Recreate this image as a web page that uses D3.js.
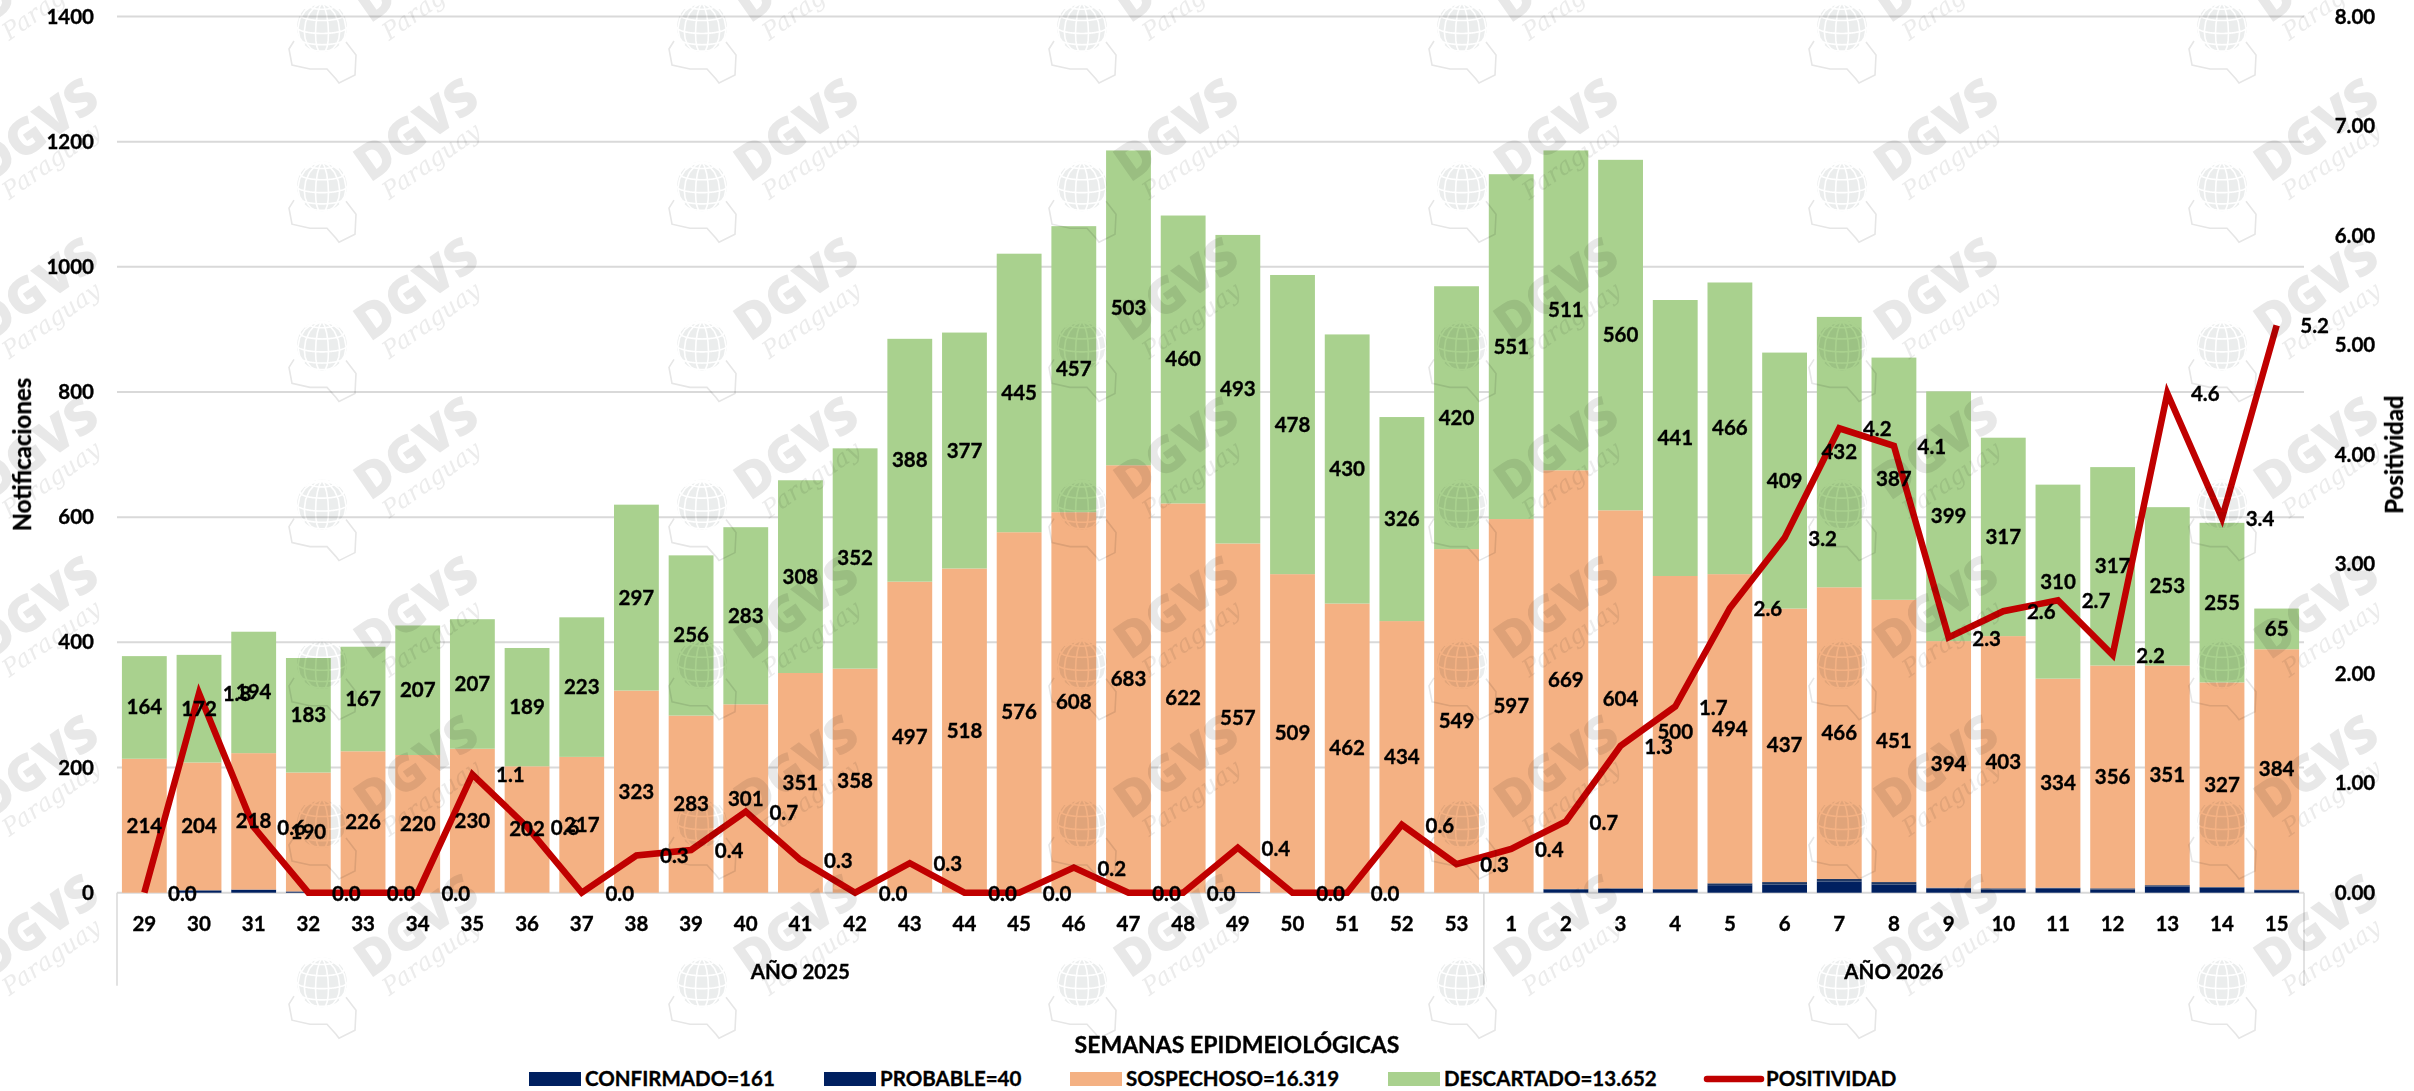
<!DOCTYPE html>
<html><head><meta charset="utf-8">
<script src="https://cdn.jsdelivr.net/npm/d3@7/dist/d3.min.js"></script>
<style>html,body{margin:0;background:#fff}svg{display:block}text{font-family:Lato,Carlito,"Open Sans",sans-serif;font-weight:700;fill:#000}.s{stroke:#000;stroke-width:.35px}</style>
</head><body><svg id="c" width="2414" height="1091"></svg>
<script>
const weeks=["29","30","31","32","33","34","35","36","37","38","39","40","41","42","43","44","45","46","47","48","49","50","51","52","53","1","2","3","4","5","6","7","8","9","10","11","12","13","14","15"];
const confirmado=[0,3,5,2,0,0,0,0,0,0,0,0,0,0,0,0,0,0,0,0,1,0,0,0,0,0,5,6,5,12,13,18,13,7,5,7,5,10,8,4];
const probable=[0,1,0,0,0,0,0,0,0,0,0,0,0,0,0,0,0,0,0,0,0,0,0,0,0,0,1,1,1,3,4,4,4,1,2,1,2,2,1,1];
const sospechoso=[214,204,218,190,226,220,230,202,217,323,283,301,351,358,497,518,576,608,683,622,557,509,462,434,549,597,669,604,500,494,437,466,451,394,403,334,356,351,327,384];
const descartado=[164,172,194,183,167,207,207,189,223,297,256,283,308,352,388,377,445,457,503,460,493,478,430,326,420,551,511,560,441,466,409,432,387,399,317,310,317,253,255,65];
const positividad=[0,1.82,0.6,0,0,0,1.08,0.6,0,0.34,0.39,0.74,0.3,0,0.27,0,0,0.23,0,0,0.41,0,0,0.62,0.26,0.4,0.65,1.34,1.7,2.6,3.24,4.24,4.08,2.33,2.57,2.67,2.17,4.56,3.42,5.18];
const leftTicks=[0,200,400,600,800,1000,1200,1400];
const rightTicks=[0,1,2,3,4,5,6,7,8];
const yearGroups=[{label:"AÑO 2025",first:0,last:24},{label:"AÑO 2026",first:25,last:39}];
const seriesNames=["confirmado","probable","sospechoso","descartado"];
const seriesColors=["#002060","#1f3864","#f4b183","#a9d18e"];
const legendItems=[{t:"CONFIRMADO=161",c:"#002060",x:529},{t:"PROBABLE=40",c:"#002060",x:824},{t:"SOSPECHOSO=16.319",c:"#f4b183",x:1070},{t:"DESCARTADO=13.652",c:"#a9d18e",x:1388},{t:"POSITIVIDAD",c:"#c00000",x:1707,line:true}];

const svg=d3.select("#c");
const L=117,R=2304,T=16.5,B=892.7;
const x=d3.scaleBand().domain(d3.range(weeks.length)).range([L,R]).paddingInner(0.18).paddingOuter(0.09);
const y=d3.scaleLinear().domain([0,1400]).range([B,T]);
const y2=d3.scaleLinear().domain([0,8]).range([B,T]);
const rows=weeks.map((w,i)=>({i,confirmado:confirmado[i],probable:probable[i],sospechoso:sospechoso[i],descartado:descartado[i]}));
const stack=d3.stack().keys(seriesNames)(rows);
const cx=i=>x(i)+x.bandwidth()/2;
const step=x.step();

svg.append("g").selectAll("line").data(leftTicks).join("line")
 .attr("x1",L).attr("x2",R).attr("y1",d=>y(d)).attr("y2",d=>y(d)).attr("stroke","#d9d9d9").attr("stroke-width",2);

svg.append("g").selectAll("g").data(stack).join("g").attr("fill",(d,i)=>seriesColors[i])
 .selectAll("rect").data(d=>d).join("rect")
 .attr("x",d=>x(d.data.i)).attr("width",x.bandwidth())
 .attr("y",d=>y(d[1])).attr("height",d=>y(d[0])-y(d[1]));

const fs=20.5;
const sep=[L,L+step*25,R];
svg.append("g").selectAll("line").data(sep).join("line")
 .attr("x1",d=>d).attr("x2",d=>d).attr("y1",B).attr("y2",B+93).attr("stroke","#d9d9d9").attr("stroke-width",1.5);

const line=d3.line().x((d,i)=>cx(i)).y(d=>y2(d));
svg.append("path").datum(positividad).attr("d",line).attr("fill","none").attr("stroke","#c00000").attr("stroke-width",6.5).attr("stroke-linejoin","miter");

// watermark: multiplied over the marks
const wm=svg.append("g").style("mix-blend-mode","multiply").attr("pointer-events","none");
const gx=d3.range(-58,2500,380), gy=d3.range(27,1100,159.2);
const globe=d3.geoOrthographic().scale(25).translate([0,0]).rotate([15,-15]);
const gpath=d3.geoPath(globe);
gy.forEach(py=>gx.forEach(px=>{
 const g=wm.append("g").attr("transform",`translate(${px},${py})`);
 g.append("circle").attr("r",25).attr("fill","#ebeded");
 g.append("path").attr("d",gpath(d3.geoGraticule().step([30,30])())).attr("fill","none").attr("stroke","#fff").attr("stroke-width",1.6);
 g.append("path").attr("d","M-28,14 L-33,22 L-30,38 L-12,42 L5,42 L14,52 L17,56 L33,48 L34,28 L24,15").attr("fill","none").attr("stroke","#e6e6e6").attr("stroke-width",1.6);
 const t=g.append("g").attr("transform","translate(48,-3) rotate(-35)");
 t.append("text").text("DGVS").style("fill","#e8e8e8").style("font-family","'Open Sans',sans-serif").style("font-weight",800).attr("font-size",50);
 t.append("text").text("Paraguay").attr("x",6).attr("y",25).style("fill","#ececec").style("font-family","'DejaVu Serif',serif").style("font-weight",400).style("font-style","italic").attr("font-size",24);
}));

const tx=svg.append("g").attr("class","s");
tx.append("g").selectAll("text").data(leftTicks).join("text").text(d=>d)
 .attr("x",94).attr("y",d=>y(d)+7).attr("text-anchor","end").attr("font-size",fs);
tx.append("g").selectAll("text").data(rightTicks).join("text").text(d=>d.toFixed(2))
 .attr("x",2355).attr("y",d=>y2(d)+7).attr("text-anchor","middle").attr("font-size",fs);
tx.append("g").selectAll("text").data(weeks).join("text").text(d=>d)
 .attr("x",(d,i)=>cx(i)).attr("y",B+38).attr("text-anchor","middle").attr("font-size",fs);
tx.append("g").selectAll("text").data(yearGroups).join("text").text(d=>d.label)
 .attr("x",d=>(cx(d.first)+cx(d.last))/2).attr("y",B+86).attr("text-anchor","middle").attr("font-size",fs);
tx.append("text").text("Notificaciones").attr("transform",`translate(31,${y(700)}) rotate(-90)`).attr("text-anchor","middle").attr("font-size",24);
tx.append("text").text("Positividad").attr("transform",`translate(2403,${y(700)}) rotate(-90)`).attr("text-anchor","middle").attr("font-size",24);
tx.append("text").text("SEMANAS EPIDMEIOLÓGICAS").attr("x",1237).attr("y",1053).attr("text-anchor","middle").attr("font-size",23);

[[2,sospechoso],[3,descartado]].forEach(([k,vals])=>{
 tx.append("g").selectAll("text").data(stack[k]).join("text").text((d,i)=>vals[i])
  .attr("x",d=>cx(d.data.i)).attr("y",d=>(y(d[0])+y(d[1]))/2+7).attr("text-anchor","middle").attr("font-size",fs);
});
tx.append("g").selectAll("text").data(positividad).join("text").text(d=>d.toFixed(1))
 .attr("x",(d,i)=>cx(i)+38).attr("y",d=>y2(d)+8).attr("text-anchor","middle").attr("font-size",fs);

const ly=1079;
const lg=tx.append("g").selectAll("g").data(legendItems).join("g").attr("transform",d=>`translate(${d.x},${ly})`);
lg.filter(d=>!d.line).append("rect").attr("x",0).attr("y",-7).attr("width",52).attr("height",14).attr("fill",d=>d.c).attr("stroke","none");
lg.filter(d=>d.line).append("line").attr("x1",0).attr("x2",54).attr("stroke",d=>d.c).attr("stroke-width",6.5).attr("stroke-linecap","round");
lg.append("text").text(d=>d.t).attr("x",d=>d.line?59:56).attr("y",7).attr("font-size",fs);
</script></body></html>
